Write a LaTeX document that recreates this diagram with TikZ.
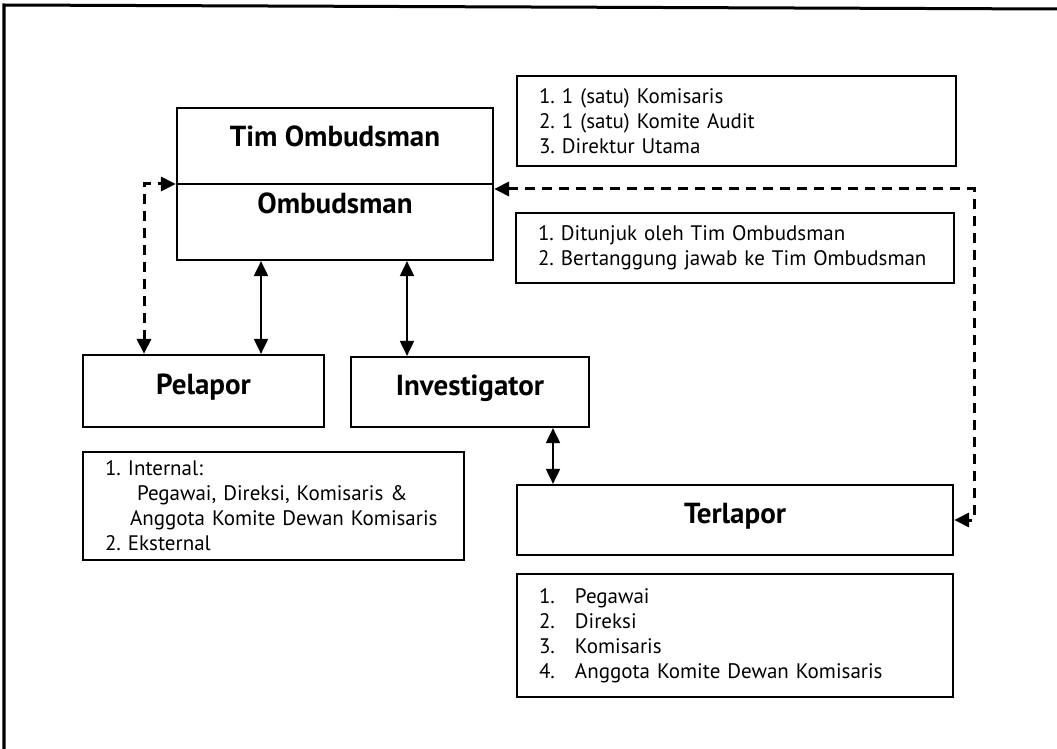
\documentclass[tikz,border=0pt]{standalone}
\usepackage{fontspec}
\setmainfont{PT Sans}
\usetikzlibrary{arrows.meta}
\frenchspacing

\begin{document}
\begin{tikzpicture}[x=0.5pt, y=-0.5pt, >={Triangle[length=7.5pt,width=7pt]},
	box/.style={draw, line width=1.1pt, inner sep=0pt},
	head/.style={box, font=\bfseries\fontsize{14.5}{16}\selectfont, text height=10pt, text depth=6.8pt},
	listbox/.style={box, align=left, inner xsep=11pt, font=\fontsize{10.5}{12.5}\selectfont},
	solidarr/.style={<->, line width=1pt},
	dasharr/.style={<->, line width=1.5pt, dash pattern=on 5pt off 3.5pt}]
	\useasboundingbox (0,0) rectangle (1057,749);
	\draw[line width=1.5pt] (4,749) -- (4,5) -- (1057,9);

	\node[box, minimum width=158pt, minimum height=76pt] (tim) at (335,184) {};
	\draw[line width=1.1pt] (tim.west) -- (tim.east);
	\node[font=\bfseries\fontsize{14.5}{16}\selectfont] (timlbl) at (335,136) {Tim Ombudsman};
	\node[font=\bfseries\fontsize{14.5}{16}\selectfont] (omblbl) at (335,203) {Ombudsman};

	\node[listbox, minimum width=219.5pt, minimum height=45pt, text width=197.5pt] (komite) at (736.5,121)
		{1. 1 (satu) Komisaris\\2. 1 (satu) Komite Audit\\3. Direktur Utama};
	\node[listbox, minimum width=219pt, minimum height=35pt, text width=197pt] (tugas) at (735,248)
		{1. Ditunjuk oleh Tim Ombudsman\\2. Bertanggung jawab ke Tim Ombudsman};

	\node[head, minimum width=120.5pt, minimum height=36pt] (pelapor) at (203.5,391) {Pelapor};
	\node[head, minimum width=119pt, minimum height=35pt] (investigator) at (470,392) {Investigator};
	\node[head, minimum width=218pt, minimum height=35pt] (terlapor) at (735,520) {Terlapor};

	\node[listbox, minimum width=190.5pt, minimum height=54pt, text width=168.5pt] (pelaporlist) at (273.5,506)
		{1. Internal:\\\hspace*{16pt}Pegawai, Direksi, Komisaris \&\\\hspace*{12.5pt}Anggota Komite Dewan Komisaris\\2. Eksternal};
	\node[listbox, minimum width=218pt, minimum height=61.5pt, text width=196pt] (terlaporlist) at (735,635.5)
		{\makebox[18pt][l]{1.}Pegawai\\\makebox[18pt][l]{2.}Direksi\\\makebox[18pt][l]{3.}Komisaris\\\makebox[18pt][l]{4.}Anggota Komite Dewan Komisaris};

	\coordinate (a1) at (261,0);
	\coordinate (a2) at (407,0);
	\coordinate (a3) at (553,0);
	\coordinate (lc) at (144,0);
	\coordinate (rc) at (974,189);

	\draw[solidarr] (tim.south -| a1) -- (pelapor.north -| a1);
	\draw[solidarr] (tim.south -| a2) -- (investigator.north -| a2);
	\draw[solidarr] (investigator.south -| a3) -- (terlapor.north -| a3);
	\draw[dasharr] (pelapor.north -| lc) |- (tim.west);
	\draw[dasharr] (tim.east |- rc) -- (rc) |- (terlapor.east);
\end{tikzpicture}
\end{document}
